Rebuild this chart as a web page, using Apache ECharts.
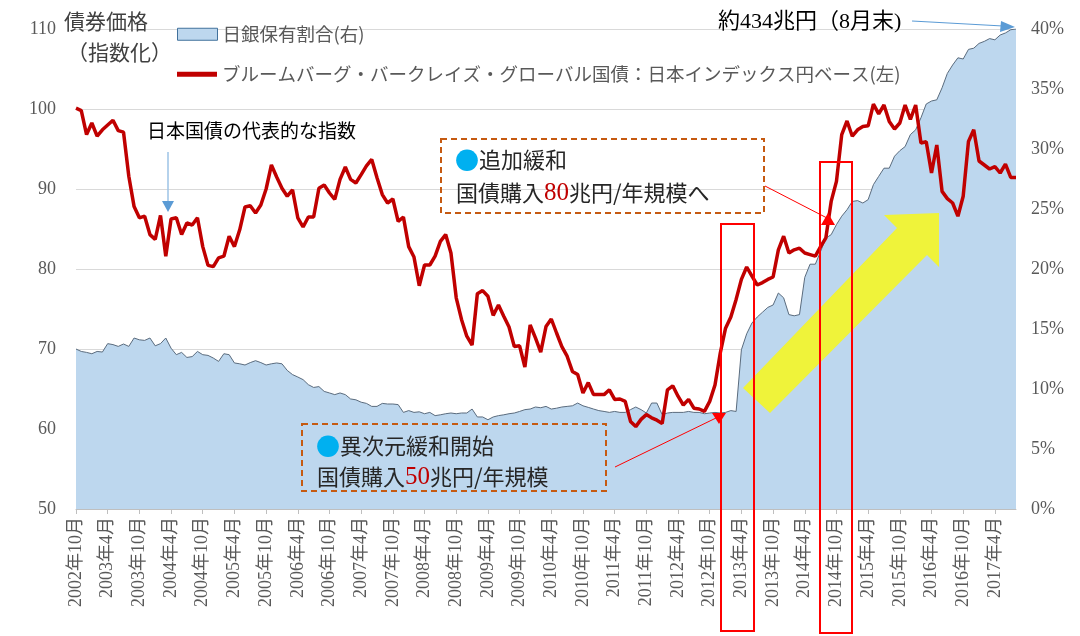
<!DOCTYPE html>
<html>
<head>
<meta charset="utf-8">
<script src="https://cdn.jsdelivr.net/npm/echarts@6/dist/echarts.min.js"></script>
<style>html,body{margin:0;padding:0;background:#fff;}#c{width:1080px;height:636px;}</style>
</head>
<body>
<div id="c"></div>
<script>
// Months from 2002年10月 to 2017年8月
const startYear = 2002, startMonth = 10, monthCount = 179;
const categories = [];
for (let k = 0; k < monthCount; k++) {
  const m = startMonth - 1 + k;
  categories.push((startYear + Math.floor(m / 12)) + '年' + (m % 12 + 1) + '月');
}

const bondIndexName = 'ブルームバーグ・バークレイズ・グローバル国債：日本インデックス円ベース(左)';
const bojShareName = '日銀保有割合(右)';

// Bond price index (left axis)
const bondIndex = [
  100.1, 99.8, 96.8, 98.25, 96.6, 97.4, 98.0, 98.6, 97.3, 97.1,
  91.6, 87.8, 86.4, 86.6, 84.3, 83.7, 86.7, 81.6, 86.25, 86.4,
  84.3, 85.75, 85.5, 86.4, 82.8, 80.45, 80.3, 81.4, 81.6, 84.1,
  82.8, 84.9, 87.75, 87.9, 87.0, 88.0, 90.0, 93.0, 91.5, 90.1,
  89.1, 89.9, 86.4, 85.25, 86.5, 86.5, 90.1, 90.5, 89.5, 88.7,
  91.2, 92.75, 91.2, 90.75, 91.8, 92.9, 93.7, 91.4, 89.3, 88.25,
  88.75, 85.95, 86.5, 82.8, 81.5, 77.9, 80.5, 80.5, 81.6, 83.45,
  84.3, 82.0, 76.4, 73.7, 71.6, 70.5, 76.9, 77.3, 76.6, 74.2,
  75.5, 74.1, 72.75, 70.3, 70.4, 67.75, 73.0, 71.4, 69.6, 72.8,
  73.75, 72.0, 70.3, 69.1, 67.2, 66.8, 64.5, 65.8, 64.3, 64.3,
  64.3, 64.9, 63.7, 63.75, 63.45, 60.95, 60.3, 61.2, 61.8, 61.4,
  61.1, 60.7, 64.9, 65.4, 64.1, 63.0, 63.7, 62.6, 62.5, 62.2,
  63.45, 65.5, 69.5, 72.6, 74.0, 76.2, 78.7, 80.25, 79.1, 78.0,
  78.3, 78.7, 79.0, 82.4, 84.1, 82.0, 82.4, 82.6, 82.0, 81.8,
  81.6, 82.8, 83.9, 88.45, 90.95, 96.8, 98.5, 96.6, 97.4, 97.8,
  97.9, 100.6, 99.4, 100.5, 98.45, 97.5, 98.25, 100.5, 98.7, 100.5,
  95.75, 95.9, 92.0, 95.5, 89.7, 88.8, 88.25, 86.6, 89.1, 95.95,
  97.4, 93.5, 93.0, 92.5, 92.8, 92.0, 93.1, 91.45, 91.45
];

// BOJ holding share, % (right axis)
const bojShare = [
  13.33, 13.13, 13.05, 12.94, 13.13, 13.08, 13.78, 13.7, 13.55, 13.75,
  13.55, 14.25, 14.1, 14.05, 14.25, 13.6, 13.78, 14.25, 13.4, 12.86,
  13.05, 12.63, 12.7, 13.13, 12.86, 12.8, 12.58, 12.3, 12.94, 12.86,
  12.17, 12.1, 12.0, 12.2, 12.36, 12.2, 12.0, 12.1, 12.17, 12.1,
  11.55, 11.2, 11.0, 10.78, 10.36, 10.13, 10.2, 9.8, 9.67, 9.53,
  9.67, 9.53, 9.17, 9.1, 8.9, 8.8, 8.55, 8.55, 8.8, 8.75,
  8.75, 8.7, 8.05, 8.2, 8.05, 8.1, 7.94, 8.05, 7.78, 7.85,
  7.94, 8.0, 7.94, 8.0, 8.0, 8.33, 7.67, 7.67, 7.44, 7.67,
  7.78, 7.85, 7.94, 8.0, 8.13, 8.28, 8.33, 8.5, 8.44, 8.55,
  8.33, 8.4, 8.5, 8.55, 8.6, 8.83, 8.6, 8.47, 8.33, 8.2,
  8.13, 8.05, 8.13, 8.05, 8.05, 8.28, 8.5, 8.28, 8.0, 8.83,
  8.83, 7.86, 8.0, 8.05, 8.05, 8.05, 8.13, 8.05, 8.05, 7.94,
  8.0, 8.05, 8.0, 8.05, 8.2, 8.13, 13.27, 14.6, 15.5, 16.0,
  16.4, 16.8, 17.0, 18.0, 17.6, 16.2, 16.1, 16.2, 19.3, 20.4,
  20.4, 21.47, 22.58, 22.86, 23.7, 24.4, 24.94, 25.63, 25.7, 25.5,
  25.78, 27.03, 27.72, 28.4, 28.4, 29.4, 29.86, 30.2, 31.2, 31.6,
  32.6, 33.75, 34.0, 34.1, 35.1, 36.3, 37.0, 37.6, 37.5, 38.3,
  38.4, 38.8, 38.97, 39.2, 39.1, 39.5, 39.67, 39.94, 40.0
];

const leftTicks = [50, 60, 70, 80, 90, 100, 110];
const rightTicks = [0, 5, 10, 15, 20, 25, 30, 35, 40];

const serif = "'Liberation Serif','Noto Sans CJK JP',serif";
const sans = "'Noto Sans CJK JP','Noto Sans',sans-serif";

const chart = echarts.init(document.getElementById('c'), null, {renderer: 'canvas'});

const option = {
  animation: false,
  backgroundColor: '#ffffff',
  grid: {left: 76, right: 64, top: 29, bottom: 127, containLabel: false},
  legend: [
    {
      left: 172, top: 20, itemWidth: 40, itemHeight: 12,
      textStyle: {fontSize: 18.5, color: '#595959', fontFamily: sans, padding: [0, 0, 0, 0]},
      data: [{name: bojShareName, icon: 'rect', itemStyle: {color: '#BDD7EE', borderColor: '#41719C', borderWidth: 1}}]
    },
    {
      left: 172, top: 60, itemWidth: 40, itemHeight: 5,
      textStyle: {fontSize: 18.5, color: '#595959', fontFamily: sans, padding: [0, 0, 0, 0]},
      data: [{name: bondIndexName, icon: 'rect', itemStyle: {color: '#C00000'}}]
    }
  ],
  xAxis: {
    type: 'category',
    data: categories,
    boundaryGap: false,
    axisLine: {show: true, lineStyle: {color: '#BFBFBF', width: 1}},
    axisTick: {show: true, interval: 5, length: 5, lineStyle: {color: '#BFBFBF'}},
    axisLabel: {interval: 5, rotate: 90, fontSize: 18, color: '#595959', fontFamily: serif, margin: 8},
    splitLine: {show: false}
  },
  yAxis: [
    {
      type: 'value', min: leftTicks[0], max: leftTicks[leftTicks.length - 1], interval: 10,
      axisLine: {show: false}, axisTick: {show: false},
      axisLabel: {fontSize: 18, color: '#595959', fontFamily: serif, margin: 20},
      splitLine: {show: true, lineStyle: {color: '#D9D9D9', width: 1}}
    },
    {
      type: 'value', position: 'right', min: rightTicks[0], max: rightTicks[rightTicks.length - 1], interval: 5,
      axisLine: {show: false}, axisTick: {show: false},
      axisLabel: {fontSize: 18, color: '#595959', fontFamily: serif, margin: 15, formatter: '{value}%'},
      splitLine: {show: false}
    }
  ],
  series: [
    {
      name: bojShareName, type: 'line', yAxisIndex: 1, data: bojShare,
      symbol: 'none', showSymbol: false, z: 2,
      lineStyle: {color: '#5A6B7D', width: 1},
      itemStyle: {color: '#BDD7EE'},
      areaStyle: {color: '#BDD7EE', opacity: 1}
    },
    {
      name: bondIndexName, type: 'line', yAxisIndex: 0, data: bondIndex,
      symbol: 'none', showSymbol: false, z: 5,
      lineStyle: {color: '#C00000', width: 3.5},
      itemStyle: {color: '#C00000'}
    }
  ],
  graphic: [
    // axis title
    {type: 'text', left: 64, top: 11, z: 10, style: {text: '債券価格', font: "21px " + sans, fill: '#404040'}},
    {type: 'text', left: 67, top: 42, z: 10, style: {text: '（指数化）', font: "21px " + sans, fill: '#404040'}},
    // top annotation
    {type: 'text', left: 718, top: 11, z: 10, style: {text: '約434兆円（8月末)', font: "22px " + serif, fill: '#000000'}},
    {type: 'line', z: 10, shape: {x1: 912, y1: 21, x2: 1003, y2: 26}, style: {stroke: '#5B9BD5', lineWidth: 1.2}},
    {type: 'polygon', z: 10, shape: {points: [[1015, 27], [1001, 21], [1000, 32]]}, style: {fill: '#5B9BD5'}},
    // index annotation
    {type: 'text', left: 147, top: 121, z: 10, style: {text: '日本国債の代表的な指数', font: "19px " + sans, fill: '#000000'}},
    {type: 'line', z: 10, shape: {x1: 168, y1: 152, x2: 168, y2: 202}, style: {stroke: '#9DC3E6', lineWidth: 1.5}},
    {type: 'polygon', z: 10, shape: {points: [[162, 201], [174, 201], [168, 212]]}, style: {fill: '#5B9BD5'}},
    // yellow arrow
    {type: 'polygon', z: 3, shape: {points: [[743, 388], [897, 228], [884, 215], [939, 213], [939, 267], [927, 255], [770, 413]]}, style: {fill: '#EFF33A'}},
    // red boxes
    {type: 'rect', z: 12, shape: {x: 721, y: 224, width: 33, height: 407}, style: {fill: null, stroke: '#FF0000', lineWidth: 2}},
    {type: 'rect', z: 12, shape: {x: 820, y: 162, width: 32, height: 471}, style: {fill: null, stroke: '#FF0000', lineWidth: 2}},
    // box 1: 追加緩和
    {type: 'rect', z: 10, shape: {x: 441, y: 139, width: 323, height: 74}, style: {fill: 'rgba(255,255,255,0)', stroke: '#C55A11', lineWidth: 2, lineDash: [6, 4]}},
    {type: 'text', z: 11, x: 455, y: 160, style: {
      text: '{c|●}{t|追加緩和}', verticalAlign: 'middle',
      rich: {c: {fill: '#00B0F0', fontSize: 24, fontFamily: sans}, t: {fill: '#262626', fontSize: 22, fontFamily: sans}}
    }},
    {type: 'text', z: 11, x: 456, y: 193, style: {
      text: '{t|国債購入}{n|80}{t|兆円/年規模へ}', verticalAlign: 'middle',
      rich: {t: {fill: '#262626', fontSize: 22, fontFamily: sans}, n: {fill: '#C00000', fontSize: 25, fontFamily: serif}}
    }},
    {type: 'line', z: 11, shape: {x1: 765, y1: 186, x2: 827, y2: 218}, style: {stroke: '#FF0000', lineWidth: 1}},
    {type: 'polygon', z: 11, shape: {points: [[828, 213], [821, 225], [835, 225]]}, style: {fill: '#FF0000'}},
    // box 2: 異次元緩和開始
    {type: 'rect', z: 10, shape: {x: 302, y: 424, width: 304, height: 67}, style: {fill: 'rgba(255,255,255,0)', stroke: '#C55A11', lineWidth: 2, lineDash: [6, 4]}},
    {type: 'text', z: 11, x: 316, y: 446, style: {
      text: '{c|●}{t|異次元緩和開始}', verticalAlign: 'middle',
      rich: {c: {fill: '#00B0F0', fontSize: 24, fontFamily: sans}, t: {fill: '#262626', fontSize: 22, fontFamily: sans}}
    }},
    {type: 'text', z: 11, x: 317, y: 477, style: {
      text: '{t|国債購入}{n|50}{t|兆円/年規模}', verticalAlign: 'middle',
      rich: {t: {fill: '#262626', fontSize: 22, fontFamily: sans}, n: {fill: '#C00000', fontSize: 25, fontFamily: serif}}
    }},
    {type: 'line', z: 11, shape: {x1: 615, y1: 467, x2: 716, y2: 418}, style: {stroke: '#FF0000', lineWidth: 1}},
    {type: 'polygon', z: 11, shape: {points: [[712, 413], [726, 413], [719, 424]]}, style: {fill: '#FF0000'}}
  ]
};
chart.setOption(option);
</script>
</body>
</html>
